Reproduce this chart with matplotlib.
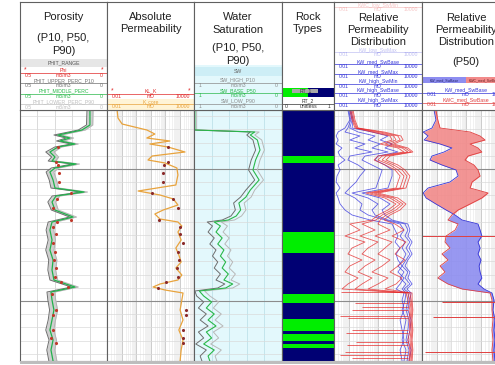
import numpy as np
import matplotlib
matplotlib.use('Agg')
import matplotlib.pyplot as plt
from matplotlib.patches import Rectangle
from matplotlib.ticker import LogLocator, NullFormatter

plt.rcParams['font.family'] = ['Liberation Sans', 'DejaVu Sans']

# ---- porosity (m3/m3) ----
phi_depth = [2000, 2015, 2020, 2025, 2028, 2031, 2034, 2037, 2042, 2047,
             2051, 2054, 2058, 2062, 2070, 2078, 2082, 2086, 2092, 2100,
             2107, 2112, 2120, 2130, 2140, 2150, 2160, 2170, 2177, 2182,
             2190, 2200, 2210, 2220, 2230, 2240, 2251]
phi_p50 = [0.098, 0.098, 0.144, 0.282, 0.213, 0.270, 0.184, 0.282, 0.328, 0.299,
           0.316, 0.178, 0.299, 0.328, 0.310, 0.299, 0.132, 0.293, 0.316, 0.299,
           0.195, 0.316, 0.328, 0.316, 0.328, 0.310, 0.316, 0.305, 0.184, 0.322,
           0.316, 0.305, 0.316, 0.328, 0.310, 0.322, 0.310]
phi_p10 = [0.115, 0.118, 0.165, 0.305, 0.235, 0.290, 0.205, 0.300, 0.352, 0.318,
           0.338, 0.200, 0.320, 0.350, 0.332, 0.322, 0.150, 0.315, 0.340, 0.320,
           0.215, 0.338, 0.350, 0.338, 0.352, 0.335, 0.340, 0.328, 0.205, 0.345,
           0.340, 0.330, 0.338, 0.352, 0.333, 0.346, 0.334]
phi_p90 = [0.080, 0.082, 0.125, 0.262, 0.192, 0.250, 0.165, 0.262, 0.305, 0.278,
           0.295, 0.158, 0.278, 0.306, 0.290, 0.278, 0.112, 0.272, 0.295, 0.280,
           0.175, 0.295, 0.306, 0.296, 0.305, 0.288, 0.295, 0.284, 0.165, 0.300,
           0.295, 0.284, 0.296, 0.306, 0.290, 0.300, 0.288]
core_depth = [2037, 2052, 2055, 2063, 2072, 2083, 2089, 2098, 2110, 2112, 2117, 2124,
              2133, 2142, 2150, 2158, 2167, 2172, 2177, 2184, 2200, 2205, 2220, 2228, 2233]
core_phi = [0.282, 0.293, 0.282, 0.276, 0.276, 0.207, 0.287, 0.310, 0.207, 0.287, 0.310, 0.293,
            0.310, 0.299, 0.305, 0.293, 0.299, 0.264, 0.224, 0.316, 0.293, 0.310, 0.310, 0.322, 0.293]

# ---- absolute permeability (mD) ----
perm_depth = [2000, 2008, 2014, 2020, 2024, 2028, 2031, 2034, 2037, 2042,
              2046, 2050, 2053, 2058, 2065, 2075, 2081, 2085, 2089, 2095,
              2100, 2104, 2109, 2112, 2116, 2122, 2130, 2138, 2145, 2152,
              2158, 2165, 2170, 2174, 2177, 2180, 2183, 2190, 2200, 2210,
              2220, 2230, 2240, 2251]
perm_k = [0.05, 0.057, 0.11, 5.6, 20, 5.6, 220, 9, 160, 2400,
          13, 6.7, 100, 660, 780, 560, 1.4, 45, 380, 780,
          75, 20, 45, 780, 1450, 780, 1300, 560, 900, 1300,
          560, 1450, 780, 45, 15, 100, 1750, 1450, 1100, 1750,
          900, 1750, 1300, 1100]
core_k_depth = [2037, 2052, 2055, 2063, 2072, 2083, 2089, 2098, 2110, 2117, 2124, 2133,
                2142, 2150, 2158, 2167, 2172, 2178, 2200, 2205, 2220, 2228, 2233]
core_k = [160, 160, 85, 75, 75, 13, 380, 780, 40, 1100, 1100, 1750,
          780, 900, 660, 780, 120, 33, 2800, 2800, 1750, 1750, 1750]

# ---- water saturation (m3/m3) ----
sw_depth = [2000, 2020, 2022, 2025, 2030, 2040, 2050, 2060, 2070, 2080,
            2087, 2093, 2100, 2106, 2110, 2112, 2116, 2122, 2128, 2134,
            2140, 2146, 2152, 2158, 2164, 2170, 2174, 2178, 2181, 2186,
            2192, 2198, 2204, 2210, 2216, 2222, 2228, 2234, 2240, 2246, 2251]
sw_p50 = [0.99, 0.99, 0.31, 0.36, 0.28, 0.25, 0.30, 0.33, 0.26, 0.36,
          0.41, 0.49, 0.47, 0.52, 0.61, 0.77, 0.70, 0.75, 0.68, 0.73,
          0.66, 0.70, 0.64, 0.68, 0.61, 0.66, 0.56, 0.64, 0.94, 0.89,
          0.80, 0.86, 0.77, 0.84, 0.75, 0.86, 0.80, 0.89, 0.77, 0.84, 0.82]
sw_p10 = [1.0, 1.0, 0.36, 0.40, 0.33, 0.30, 0.35, 0.38, 0.31, 0.41,
          0.47, 0.55, 0.53, 0.58, 0.68, 0.85, 0.79, 0.84, 0.77, 0.82,
          0.75, 0.79, 0.73, 0.77, 0.70, 0.75, 0.65, 0.73, 0.99, 0.97,
          0.89, 0.95, 0.86, 0.93, 0.84, 0.95, 0.89, 0.98, 0.86, 0.93, 0.91]
sw_p90 = [0.97, 0.97, 0.26, 0.31, 0.23, 0.20, 0.25, 0.28, 0.21, 0.31,
          0.35, 0.43, 0.41, 0.46, 0.54, 0.69, 0.62, 0.67, 0.60, 0.65,
          0.58, 0.62, 0.56, 0.60, 0.53, 0.58, 0.48, 0.56, 0.88, 0.82,
          0.72, 0.78, 0.69, 0.76, 0.67, 0.78, 0.72, 0.81, 0.69, 0.76, 0.74]

# ---- rock types ----
rt_tops = [2000, 2046, 2053, 2122, 2143, 2184, 2193, 2209, 2221, 2224, 2231, 2234, 2238]
rt_codes = [2, 1, 2, 1, 2, 1, 2, 1, 2, 1, 2, 1, 2]

# ---- relative permeability distribution (mD) ----
rp_depth = [2000, 2010, 2018, 2022, 2026, 2030, 2034, 2038, 2042, 2046,
            2050, 2055, 2060, 2066, 2072, 2078, 2083, 2088, 2094, 2100,
            2105, 2110, 2114, 2120, 2126, 2132, 2138, 2144, 2150, 2156,
            2162, 2168, 2174, 2179, 2183, 2190, 2200, 2210, 2220, 2230,
            2240, 2251]
kw_curves = [
    [0.089, 0.12, 0.056, 0.019, 0.014, 0.019, 0.014, 0.035, 0.019, 0.026,
     0.056, 0.019, 0.026, 0.016, 0.014, 0.026, 0.014, 0.019, 0.026, 0.056,
     0.17, 2.9, 91, 145, 230, 145, 320, 170, 230, 440,
     230, 590, 320, 170, 590, 440, 590, 320, 440, 590, 320, 440],
    [0.10, 0.14, 0.089, 0.056, 0.59, 0.12, 1.3, 0.27, 3.9, 0.12,
     0.089, 0.44, 1.3, 0.59, 0.32, 0.12, 0.056, 0.27, 0.81, 0.59,
     2.1, 30, 320, 590, 320, 690, 440, 810, 510, 230,
     590, 320, 810, 440, 810, 690, 440, 810, 590, 440, 810, 590],
    [0.12, 0.17, 0.12, 0.44, 6.3, 2.1, 14, 3.9, 48, 1.3,
     0.81, 3.9, 19, 14, 10, 7.2, 0.17, 2.1, 10, 3.9,
     6.3, 48, 690, 1100, 690, 1500, 810, 1500, 810, 440,
     1100, 690, 1500, 590, 1300, 1100, 810, 1300, 1100, 810, 1300, 950],
    [0.14, 0.20, 0.17, 3.9, 48, 14, 91, 30, 230, 10,
     6.3, 30, 91, 91, 66, 48, 0.81, 14, 66, 19,
     30, 91, 1100, 1500, 1100, 2100, 1300, 2100, 1100, 690,
     1500, 1100, 2100, 950, 1800, 1500, 1100, 1800, 1500, 1100, 1800, 1300],
]
kwc_curves = [
    [0.12, 0.17, 0.27, 3.9, 66, 91, 14, 230, 590, 10,
     5.4, 30, 145, 320, 230, 170, 1.5, 30, 170, 48,
     10, 3.9, 0.12, 0.59, 0.056, 1.3, 0.17, 0.089, 0.81, 0.12,
     0.056, 0.44, 0.089, 0.035, 810, 1100, 1500, 1300, 1500, 1100, 1500, 1300],
    [0.14, 0.20, 0.32, 7.2, 120, 170, 30, 440, 1100, 19,
     10, 66, 230, 590, 440, 320, 2.9, 66, 320, 91,
     19, 7.2, 0.81, 6.3, 0.59, 10, 2.1, 0.81, 6.3, 1.3,
     0.44, 3.9, 0.81, 0.27, 1100, 1500, 1800, 1500, 1800, 1500, 1800, 1500],
    [0.17, 0.23, 0.37, 14, 230, 320, 66, 690, 1800, 35,
     19, 120, 440, 950, 690, 510, 5.4, 120, 510, 170,
     35, 14, 10, 66, 6.3, 91, 30, 10, 66, 19,
     3.9, 48, 10, 2.1, 1500, 1800, 2100, 1800, 2100, 1800, 2100, 1800],
    [0.20, 0.27, 0.44, 26, 370, 510, 120, 1100, 2400, 66,
     35, 230, 690, 1500, 1100, 810, 10, 230, 810, 320,
     66, 26, 145, 590, 91, 810, 320, 145, 690, 230,
     66, 440, 170, 30, 2100, 2100, 2400, 2100, 2400, 2100, 2400, 2100],
]
spike_depth = [2182, 2193, 2197, 2200, 2206, 2208, 2220, 2223, 2232, 2235, 2242, 2245, 2248]
spike_min = [0.031, 0.27, 0.81, 0.17, 0.026, 0.089, 0.17, 0.066, 0.32, 0.075, 0.056, 0.026, 0.17]
spike_max = 1100

# ---- P50 relative permeability (mD) ----
kw_p50 = [0.066, 0.089, 0.048, 0.012, 0.026, 0.014, 0.17, 1.1, 0.32, 0.048,
          0.035, 0.23, 2.1, 2.9, 0.81, 0.026, 0.012, 0.019, 0.089, 0.44,
          1.8, 5.4, 66, 91, 120, 66, 91, 66, 105, 78,
          91, 120, 66, 170, 590, 810, 690, 950, 810, 950, 810, 950]
kwc_p50 = [0.089, 0.12, 0.17, 19, 91, 200, 19, 66, 120, 14,
           8.5, 35, 66, 91, 26, 19, 320, 120, 19, 2.9,
           1.1, 0.59, 2.9, 1.8, 0.44, 0.37, 0.81, 0.23, 0.59, 0.17,
           0.37, 0.12, 0.59, 5.4, 440, 590, 590, 690, 590, 690, 590, 690]
p50_spike_depth = [2126, 2192, 2207, 2242]
p50_spike_min = [0.01, 0.23, 0.056, 0.016]
p50_spike_max = 900

# ---- header labels ----
titles = [["Porosity", "(P10, P50,", "P90)"], ["Absolute", "Permeability"],
          ["Water", "Saturation", "(P10, P50,", "P90)"], ["Rock", "Types"],
          ["Relative", "Permeability", "Distribution"],
          ["Relative", "Permeability", "Distribution", "(P50)"]]
por_rows = [("Phi", "0.5", "m3/m3", "0", "#e02828"),
            ("PHIT_UPPER_PERC_P10", "0.5", "m3/m3", "0", "#707070"),
            ("PHIT_MIDDLE_PERC", "0.5", "m3/m3", "0", "#2ab84a"),
            ("PHIT_LOWER_PERC_P90", "0.5", "m3/m3", "0", "#bdbdbd")]
perm_rows = [("KL_K", "0.01", "mD", "10000", "#e02828"),
             ("K_core", "0.01", "mD", "10000", "#e8a33d")]
sw_rows = [("SW_HIGH_P10", "1", "m3/m3", "0", "#8a8a8a"),
           ("SW_BASE_P50", "1", "m3/m3", "0", "#2ab84a"),
           ("SW_LOW_P90", "1", "m3/m3", "0", "#8a8a8a")]
rp_rows = [("KW_med_SwBase", "0.01", "mD", "10000", "#3535d8"),
           ("KW_med_SwMax", "0.01", "mD", "10000", "#3535d8"),
           ("KW_high_SwMin", "0.01", "mD", "10000", "#3535d8"),
           ("KW_high_SwBase", "0.01", "mD", "10000", "#3535d8"),
           ("KW_high_SwMax", "0.01", "mD", "10000", "#3535d8")]
rp_faded = [("KWC_low_SwMin", "#e04040", 5), ("KW_low_SwMax", "#3535d8", 50)]
p50_rows = [("KW_med_SwBase", "0.01", "mD", "10000", "#3535d8"),
            ("KWC_med_SwBase", "0.01", "mD", "10000", "#e04040")]

W, H = 495, 365
TOP, BASE = 2000, 2251
edges = [20, 107, 194, 282, 334, 422, 510]
SMALL = 3.7

fig = plt.figure(figsize=(4.95, 3.65), dpi=100)


def rect(x0, x1, y0, y1):
    return [x0 / W, 1 - y1 / H, (x1 - x0) / W, (y1 - y0) / H]


def style_track(ax):
    ax.set_ylim(BASE, TOP)
    ax.set_yticks([2059, 2191])
    ax.set_yticks(np.arange(2006.2, BASE, 13.2), minor=True)
    ax.grid(axis='y', which='major', color='#8c8c8c', lw=0.8)
    ax.grid(axis='y', which='minor', color='#dadada', lw=0.5)
    ax.tick_params(which='both', left=False, labelleft=False,
                   bottom=False, labelbottom=False)
    for s in ax.spines.values():
        s.set_color('#606060')
        s.set_linewidth(0.8)
    ax.set_axisbelow(True)


def log_track(ax):
    ax.set_xscale('log')
    ax.set_xlim(0.01, 10000)
    ax.xaxis.set_major_locator(LogLocator(base=10, numticks=12))
    ax.xaxis.set_minor_locator(LogLocator(base=10, subs=np.arange(2, 10), numticks=12))
    ax.xaxis.set_minor_formatter(NullFormatter())
    ax.grid(axis='x', which='major', color='#c4c4c4', lw=0.6)
    ax.grid(axis='x', which='minor', color='#ebebeb', lw=0.5)


def lin_track(ax, left, right, gcolor):
    ax.set_xlim(left, right)
    ax.set_xticks(np.linspace(left, right, 6))
    ax.grid(axis='x', which='major', color=gcolor, lw=0.6)


def header(i):
    hax = fig.add_axes(rect(edges[i], edges[i + 1], 2, 110))
    hax.set_xlim(0, 1)
    hax.set_ylim(110, 2)
    hax.set_xticks([])
    hax.set_yticks([])
    for s in hax.spines.values():
        s.set_color('#606060')
        s.set_linewidth(0.8)
    return hax


def curve_rows(hax, rows, y0, step, alpha=1.0):
    for i, (name, lo, unit, hi, color) in enumerate(rows):
        y = y0 + i * step
        hax.text(0.5, y, name, ha='center', va='center', fontsize=SMALL, color=color, alpha=alpha)
        hax.plot([0, 1], [y + step / 4, y + step / 4], color=color, lw=0.5, alpha=alpha)
        hax.text(0.05, y + step / 2, lo, ha='left', va='center', fontsize=SMALL, color=color, alpha=alpha)
        hax.text(0.5, y + step / 2, unit, ha='center', va='center', fontsize=SMALL, color=color, alpha=alpha)
        hax.text(0.95, y + step / 2, hi, ha='right', va='center', fontsize=SMALL, color=color, alpha=alpha)


# ---------------- data tracks ----------------
axes = [fig.add_axes(rect(edges[i], edges[i + 1], 110, 361)) for i in range(6)]
ax_phi, ax_k, ax_sw, ax_rt, ax_rp, ax_p50 = axes
for ax in axes:
    style_track(ax)

# porosity
lin_track(ax_phi, 0.5, 0.0, '#d4d4d4')
ax_phi.fill_betweenx(phi_depth, phi_p90, phi_p10, color='#cfcfcf', lw=0)
ax_phi.plot(phi_p10, phi_depth, color='#6e6e6e', lw=0.7)
ax_phi.plot(phi_p90, phi_depth, color='#b4b4b4', lw=0.7)
ax_phi.plot(phi_p50, phi_depth, color='#22b14c', lw=0.9)
ax_phi.scatter(core_phi, core_depth, s=5, color='#c0392b', zorder=5, lw=0)

# absolute permeability
log_track(ax_k)
ax_k.plot(perm_k, perm_depth, color='#e8a33d', lw=0.9)
ax_k.scatter(core_k, core_k_depth, s=5, color='#8b2a2a', zorder=5, lw=0)

# water saturation
ax_sw.set_facecolor('#e3f8fc')
lin_track(ax_sw, 1.0, 0.0, '#bfe2ea')
ax_sw.plot(sw_p90, sw_depth, color='#b8b8b8', lw=0.7)
ax_sw.plot(sw_p10, sw_depth, color='#6e6e6e', lw=0.7)
ax_sw.plot(sw_p50, sw_depth, color='#2ab84a', lw=0.8)

# rock types
ax_rt.set_xlim(0, 1)
rt_bases = rt_tops[1:] + [BASE]
for top, base, code in zip(rt_tops, rt_bases, rt_codes):
    ax_rt.fill_betweenx([top, base], 0, 1, color='#00ee00' if code == 1 else '#000073', lw=0)
ax_rt.grid(False)

# relative permeability distribution
log_track(ax_rp)
for kw in kw_curves:
    ax_rp.plot(kw, rp_depth, color='#2f2fe0', lw=0.6, alpha=0.75)
for kwc in kwc_curves:
    ax_rp.plot(kwc, rp_depth, color='#e52525', lw=0.6, alpha=0.75)
ax_rp.hlines(spike_depth, spike_min, spike_max, color='#e52525', lw=0.6, alpha=0.8)

# P50
log_track(ax_p50)
kw_arr = np.array(kw_p50)
kwc_arr = np.array(kwc_p50)
ax_p50.fill_betweenx(rp_depth, kw_arr, kwc_arr, where=kwc_arr >= kw_arr,
                     color='#f28a8a', alpha=0.9, lw=0, interpolate=True)
ax_p50.fill_betweenx(rp_depth, kw_arr, kwc_arr, where=kwc_arr < kw_arr,
                     color='#8d8df0', alpha=0.9, lw=0, interpolate=True)
ax_p50.plot(kw_p50, rp_depth, color='#3535d8', lw=0.6)
ax_p50.plot(kwc_p50, rp_depth, color='#e04040', lw=0.6)
ax_p50.hlines(p50_spike_depth, p50_spike_min, p50_spike_max, color='#e04040', lw=0.7)

# ---------------- headers ----------------
title_rows = [[17, 38, 51], [17, 29], [17, 30, 48, 61], [17, 29], [18, 30, 42], [18, 30, 42, 62]]
heads = [header(i) for i in range(6)]
for i, hax in enumerate(heads):
    xc = 0.5 if i < 5 else (466 - 422) / 88
    for txt, y in zip(titles[i], title_rows[i]):
        hax.text(xc, y, txt, ha='center', va='center', fontsize=8, color='#202020', zorder=5)

# porosity header
h = heads[0]
h.add_patch(Rectangle((0, 59), 1, 8, color='#e6e6e6', lw=0))
h.text(0.5, 63, "PHIT_RANGE", ha='center', va='center', fontsize=SMALL, color='#555555')
curve_rows(h, por_rows, 70, 10.6)
h.text(0.04, 69.5, "*", ha='left', va='center', fontsize=SMALL + 1, color='#e02828')
h.text(0.96, 69.5, "*", ha='right', va='center', fontsize=SMALL + 1, color='#e02828')

# permeability header
h = heads[1]
h.add_patch(Rectangle((0, 99), 1, 11, color='#fff4d6', lw=0))
curve_rows(h, perm_rows, 91, 10.5)
h.text(0.04, 90.5, "*", ha='left', va='center', fontsize=SMALL + 1, color='#e02828')
h.text(0.96, 90.5, "*", ha='right', va='center', fontsize=SMALL + 1, color='#e02828')

# water saturation header
h = heads[2]
h.add_patch(Rectangle((0, 65), 1, 45, color='#e3f8fc', lw=0))
h.add_patch(Rectangle((0, 67), 1, 9, color='#cdeef6', lw=0))
h.text(0.5, 71.5, "SW", ha='center', va='center', fontsize=SMALL, color='#666666')
curve_rows(h, sw_rows, 80, 10.5)

# rock type header
h = heads[3]
h.add_patch(Rectangle((0, 88), 0.5, 9, color='#00ee00', lw=0))
h.add_patch(Rectangle((0.5, 88), 0.5, 9, color='#000073', lw=0))
h.add_patch(Rectangle((0.2, 88.5), 0.5, 4, color='#a8a8a8', lw=0))
h.text(0.45, 90.5, "RT_1", ha='center', va='center', fontsize=SMALL, color='#333333')
h.text(0.5, 101, "RT_2", ha='center', va='center', fontsize=SMALL, color='#333333')
h.plot([0, 1], [103.5, 103.5], color='#333333', lw=0.5)
h.text(0.06, 106.5, "0", ha='left', va='center', fontsize=SMALL, color='#333333')
h.text(0.5, 106.5, "unitless", ha='center', va='center', fontsize=SMALL, color='#333333')
h.text(0.94, 106.5, "1", ha='right', va='center', fontsize=SMALL, color='#333333')

# relative permeability distribution header
h = heads[4]
for name, color, y in rp_faded:
    curve_rows(h, [(name, "0.01", "mD", "10000", color)], y, 9.6, alpha=0.3)
curve_rows(h, rp_rows, 62, 9.6)

# P50 header
h = heads[5]
frac = (466 - 422) / 88
h.add_patch(Rectangle((0, 77), frac, 6, color='#8d8df0', lw=0))
h.add_patch(Rectangle((frac, 77), 1 - frac, 6, color='#f28a8a', lw=0))
h.text(frac / 2, 80, "KW_med_SwBase", ha='center', va='center', fontsize=2.5, color='#222266')
h.text(frac + 0.03, 80, "KWC_med_SwBase", ha='left', va='center', fontsize=2.5, color='#662222')
curve_rows(h, p50_rows, 90, 10.0)

# bottom shadow
fig.add_artist(Rectangle((20 / W, 1 - 364 / H), 475 / W, 3 / H, color='#bdbdbd',
                         lw=0, transform=fig.transFigure))

fig.savefig('out.png', dpi=100, facecolor='white')
